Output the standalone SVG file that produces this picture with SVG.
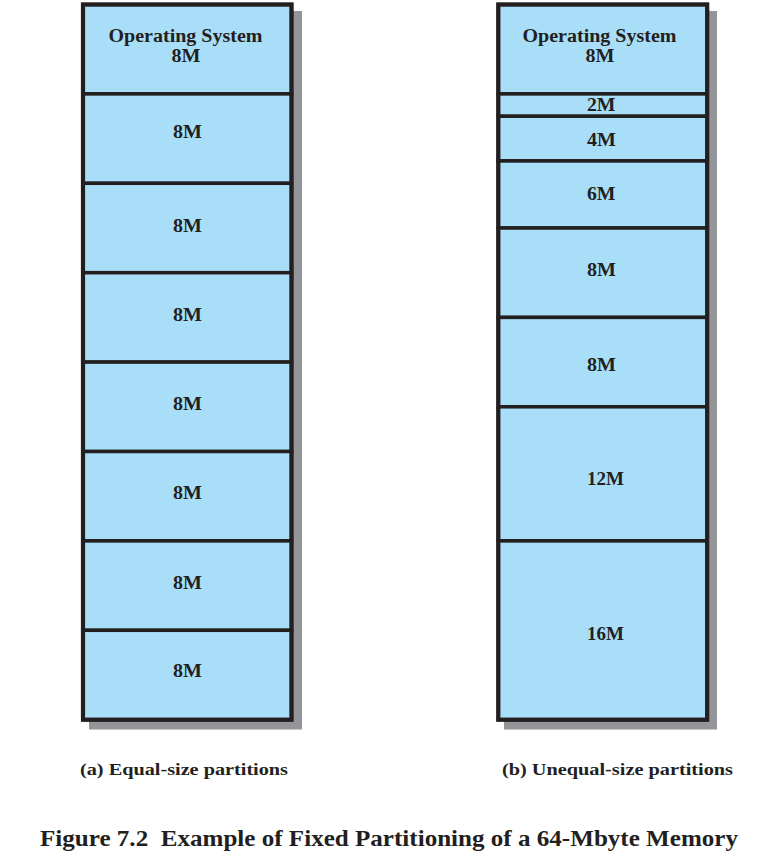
<svg xmlns="http://www.w3.org/2000/svg" width="760" height="861" viewBox="0 0 760 861">
<style>
  .shadow { fill: #939598; }
  .part { fill: #a9def9; stroke: #231f20; stroke-width: 3.5; }
  .outer { fill: none; stroke: #231f20; stroke-width: 4.2; }
  .lbl { font-family: "Liberation Serif", "Times New Roman", serif; font-weight: bold; font-size: 18.5px; fill: #231f20; }
  .cap { font-family: "Liberation Serif", "Times New Roman", serif; font-weight: bold; font-size: 17px; fill: #231f20; }
  .title { font-family: "Liberation Serif", "Times New Roman", serif; font-weight: bold; font-size: 23.5px; fill: #231f20; }
</style>
<rect width="760" height="861" fill="#ffffff"/>

<!-- (a) equal-size partitions -->
<g id="memory-a">
  <rect class="shadow" x="89" y="11" width="213" height="718.5"/>
  <g id="a-os">
    <rect class="part" x="83" y="4.5" width="208.5" height="89.4"/>
    <text class="lbl" x="185.5" y="41.7" text-anchor="middle" textLength="154" lengthAdjust="spacingAndGlyphs">Operating System</text>
    <text class="lbl" x="186" y="61.7" text-anchor="middle" textLength="29" lengthAdjust="spacingAndGlyphs">8M</text>
  </g>
  <g id="a-p1">
    <rect class="part" x="83" y="93.9" width="208.5" height="89.4"/>
    <text class="lbl" x="173" y="138" textLength="29" lengthAdjust="spacingAndGlyphs">8M</text>
  </g>
  <g id="a-p2">
    <rect class="part" x="83" y="183.3" width="208.5" height="89.4"/>
    <text class="lbl" x="173" y="232" textLength="29" lengthAdjust="spacingAndGlyphs">8M</text>
  </g>
  <g id="a-p3">
    <rect class="part" x="83" y="272.7" width="208.5" height="89.4"/>
    <text class="lbl" x="173" y="321" textLength="29" lengthAdjust="spacingAndGlyphs">8M</text>
  </g>
  <g id="a-p4">
    <rect class="part" x="83" y="362.1" width="208.5" height="89.4"/>
    <text class="lbl" x="173" y="410" textLength="29" lengthAdjust="spacingAndGlyphs">8M</text>
  </g>
  <g id="a-p5">
    <rect class="part" x="83" y="451.5" width="208.5" height="89.4"/>
    <text class="lbl" x="173" y="499" textLength="29" lengthAdjust="spacingAndGlyphs">8M</text>
  </g>
  <g id="a-p6">
    <rect class="part" x="83" y="540.9" width="208.5" height="89.4"/>
    <text class="lbl" x="173" y="589" textLength="29" lengthAdjust="spacingAndGlyphs">8M</text>
  </g>
  <g id="a-p7">
    <rect class="part" x="83" y="630.3" width="208.5" height="89.4"/>
    <text class="lbl" x="173" y="677" textLength="29" lengthAdjust="spacingAndGlyphs">8M</text>
  </g>
  <rect class="outer" x="83" y="4.5" width="208.5" height="715.2"/>
  <text class="cap" x="80" y="775" textLength="208" lengthAdjust="spacingAndGlyphs">(a) Equal-size partitions</text>
</g>

<!-- (b) unequal-size partitions -->
<g id="memory-b">
  <rect class="shadow" x="504" y="11" width="213" height="718.5"/>
  <g id="b-os">
    <rect class="part" x="498.3" y="4.5" width="208.9" height="89.4"/>
    <text class="lbl" x="599.5" y="41.7" text-anchor="middle" textLength="154" lengthAdjust="spacingAndGlyphs">Operating System</text>
    <text class="lbl" x="600" y="61.7" text-anchor="middle" textLength="29" lengthAdjust="spacingAndGlyphs">8M</text>
  </g>
  <g id="b-2m">
    <rect class="part" x="498.3" y="93.9" width="208.9" height="22.35"/>
    <text class="lbl" x="587" y="110.5" textLength="28.5" lengthAdjust="spacingAndGlyphs">2M</text>
  </g>
  <g id="b-4m">
    <rect class="part" x="498.3" y="116.25" width="208.9" height="44.7"/>
    <text class="lbl" x="587" y="146" textLength="29" lengthAdjust="spacingAndGlyphs">4M</text>
  </g>
  <g id="b-6m">
    <rect class="part" x="498.3" y="160.95" width="208.9" height="67.05"/>
    <text class="lbl" x="587" y="200" textLength="28.5" lengthAdjust="spacingAndGlyphs">6M</text>
  </g>
  <g id="b-8m-1">
    <rect class="part" x="498.3" y="228" width="208.9" height="89.4"/>
    <text class="lbl" x="587" y="276" textLength="29" lengthAdjust="spacingAndGlyphs">8M</text>
  </g>
  <g id="b-8m-2">
    <rect class="part" x="498.3" y="317.4" width="208.9" height="89.4"/>
    <text class="lbl" x="587" y="371" textLength="29" lengthAdjust="spacingAndGlyphs">8M</text>
  </g>
  <g id="b-12m">
    <rect class="part" x="498.3" y="406.8" width="208.9" height="134.1"/>
    <text class="lbl" x="587" y="485" textLength="37" lengthAdjust="spacingAndGlyphs">12M</text>
  </g>
  <g id="b-16m">
    <rect class="part" x="498.3" y="540.9" width="208.9" height="178.8"/>
    <text class="lbl" x="587" y="640" textLength="37" lengthAdjust="spacingAndGlyphs">16M</text>
  </g>
  <rect class="outer" x="498.3" y="4.5" width="208.9" height="715.2"/>
  <text class="cap" x="502" y="775" textLength="231" lengthAdjust="spacingAndGlyphs">(b) Unequal-size partitions</text>
</g>

<g id="connectors"></g>

<text class="title" x="40" y="846" textLength="698" lengthAdjust="spacingAndGlyphs" xml:space="preserve">Figure 7.2  Example of Fixed Partitioning of a 64-Mbyte Memory</text>
</svg>
